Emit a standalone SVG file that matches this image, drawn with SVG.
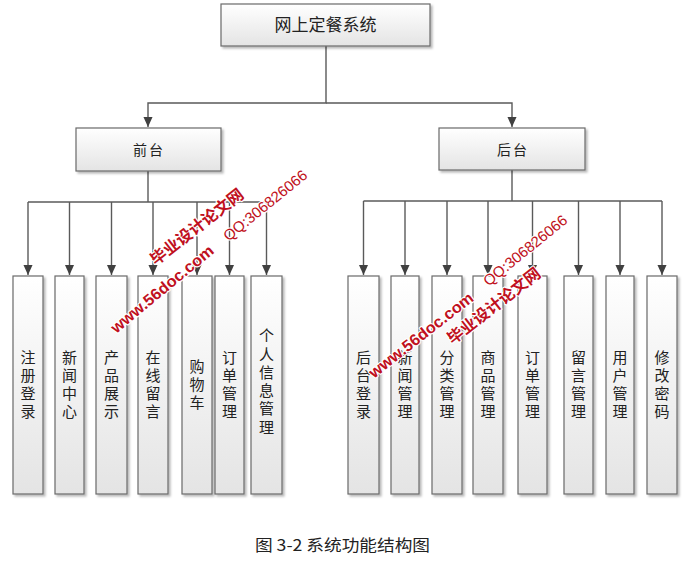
<svg xmlns="http://www.w3.org/2000/svg" width="697" height="562" viewBox="0 0 697 562">
<defs>
<linearGradient id="g" x1="0" y1="0" x2="0" y2="1">
<stop offset="0" stop-color="#ffffff"/>
<stop offset="1" stop-color="#e4e4e4"/>
</linearGradient>
<filter id="sh" x="-20%" y="-20%" width="150%" height="150%">
<feDropShadow dx="2" dy="2" stdDeviation="1.2" flood-color="#000" flood-opacity="0.28"/>
</filter>
<marker id="ah" markerUnits="userSpaceOnUse" markerWidth="10" markerHeight="11" refX="11" refY="5" orient="auto" viewBox="0 0 11 10">
<path d="M0,0 L11,5 L0,10 z" fill="#404040"/>
</marker>
<style>
.box{fill:url(#g);stroke:#6a6a6a;stroke-width:1.2;filter:url(#sh)}
.t{font-family:"Noto Sans CJK SC","Liberation Sans",sans-serif;fill:#222;text-anchor:middle}
.leaf{font-size:15px;writing-mode:vertical-rl;letter-spacing:3px}
.c{fill:none;stroke:#5a5a5a;stroke-width:1.4}
.wm{font-family:"Liberation Sans","Noto Sans CJK SC",sans-serif;fill:#c01020;stroke:#fff;stroke-width:2.2;paint-order:stroke;stroke-linejoin:round;text-anchor:middle;dominant-baseline:central}
</style>
</defs>
<rect width="697" height="562" fill="#fff"/>

<g id="connectors">
<path class="c" d="M326,46 V103 H148 V127" marker-end="url(#ah)"/>
<path class="c" d="M326,103 H512 V127" marker-end="url(#ah)"/>
<path class="c" d="M148,171 V202"/>
<path class="c" d="M28,202 H266"/>
<path class="c" d="M28,202 V275" marker-end="url(#ah)"/>
<path class="c" d="M69.5,202 V275" marker-end="url(#ah)"/>
<path class="c" d="M111.5,202 V275" marker-end="url(#ah)"/>
<path class="c" d="M153,202 V275" marker-end="url(#ah)"/>
<path class="c" d="M197,202 V275" marker-end="url(#ah)"/>
<path class="c" d="M229.5,202 V275" marker-end="url(#ah)"/>
<path class="c" d="M266.5,202 V275" marker-end="url(#ah)"/>
<path class="c" d="M512,170 V201"/>
<path class="c" d="M363.5,201 H662"/>
<path class="c" d="M363.5,201 V275" marker-end="url(#ah)"/>
<path class="c" d="M405,201 V275" marker-end="url(#ah)"/>
<path class="c" d="M447,201 V275" marker-end="url(#ah)"/>
<path class="c" d="M488,201 V275" marker-end="url(#ah)"/>
<path class="c" d="M532.5,201 V275" marker-end="url(#ah)"/>
<path class="c" d="M578.5,201 V275" marker-end="url(#ah)"/>
<path class="c" d="M620,201 V275" marker-end="url(#ah)"/>
<path class="c" d="M662,201 V275" marker-end="url(#ah)"/>
</g>

<g id="root">
<rect class="box" x="221" y="4" width="209" height="42"/>
<text class="t" x="325.5" y="31" font-size="17">网上定餐系统</text>
</g>
<g id="qiantai">
<rect class="box" x="76" y="128" width="145" height="43"/>
<text class="t" x="149" y="155" font-size="14" letter-spacing="2">前台</text>
</g>
<g id="houtai">
<rect class="box" x="439" y="128" width="146" height="42"/>
<text class="t" x="513" y="155" font-size="14" letter-spacing="2">后台</text>
</g>

<g id="l1"><rect class="box" x="13" y="276" width="30" height="218"/>
<text class="t leaf" x="28" y="385.5">注册登录</text></g>
<g id="l2"><rect class="box" x="55" y="276" width="29" height="218"/>
<text class="t leaf" x="69.5" y="385.5">新闻中心</text></g>
<g id="l3"><rect class="box" x="96" y="276" width="31" height="218"/>
<text class="t leaf" x="111.5" y="385.5">产品展示</text></g>
<g id="l4"><rect class="box" x="138" y="276" width="30" height="218"/>
<text class="t leaf" x="153" y="385.5">在线留言</text></g>
<g id="l5"><rect class="box" x="182" y="276" width="30" height="218"/>
<text class="t leaf" x="197" y="385.5">购物车</text></g>
<g id="l6"><rect class="box" x="215" y="276" width="29" height="218"/>
<text class="t leaf" x="229.5" y="385.5">订单管理</text></g>
<g id="l7"><rect class="box" x="251" y="276" width="31" height="218"/>
<text class="t leaf" x="266.5" y="383" style="letter-spacing:3.3px">个人信息管理</text></g>

<g id="r1"><rect class="box" x="348" y="276" width="31" height="218"/>
<text class="t leaf" x="363.5" y="385.5">后台登录</text></g>
<g id="r2"><rect class="box" x="391" y="276" width="28" height="218"/>
<text class="t leaf" x="405" y="385.5">新闻管理</text></g>
<g id="r3"><rect class="box" x="432" y="276" width="30" height="218"/>
<text class="t leaf" x="447" y="385.5">分类管理</text></g>
<g id="r4"><rect class="box" x="473" y="276" width="30" height="218"/>
<text class="t leaf" x="488" y="385.5">商品管理</text></g>
<g id="r5"><rect class="box" x="518" y="276" width="29" height="218"/>
<text class="t leaf" x="532.5" y="385.5">订单管理</text></g>
<g id="r6"><rect class="box" x="564" y="276" width="29" height="218"/>
<text class="t leaf" x="578.5" y="385.5">留言管理</text></g>
<g id="r7"><rect class="box" x="606" y="276" width="28" height="218"/>
<text class="t leaf" x="620" y="385.5">用户管理</text></g>
<g id="r8"><rect class="box" x="647" y="276" width="30" height="218"/>
<text class="t leaf" x="662" y="385.5">修改密码</text></g>

<g id="caption">
<text class="t" x="342.5" y="551" font-size="16" fill="#333" textLength="175" lengthAdjust="spacingAndGlyphs">图 3-2 系统功能结构图</text>
</g>

<g id="watermarks">
<text class="wm" transform="translate(197,227) rotate(-38)" font-size="16" font-weight="bold" textLength="113" lengthAdjust="spacingAndGlyphs">毕业设计论文网</text>
<text class="wm" transform="translate(162,289) rotate(-39.5)" font-size="16" font-weight="bold" textLength="128" lengthAdjust="spacingAndGlyphs">www.56doc.com</text>
<text class="wm" transform="translate(265,205) rotate(-39)" font-size="15" textLength="103" lengthAdjust="spacingAndGlyphs">QQ:306826066</text>
<text class="wm" transform="translate(421,335) rotate(-38)" font-size="16" font-weight="bold" textLength="128" lengthAdjust="spacingAndGlyphs">www.56doc.com</text>
<text class="wm" transform="translate(525,250) rotate(-39)" font-size="15" textLength="103" lengthAdjust="spacingAndGlyphs">QQ:306826066</text>
<text class="wm" transform="translate(494,306) rotate(-38)" font-size="16" font-weight="bold" textLength="113" lengthAdjust="spacingAndGlyphs">毕业设计论文网</text>
</g>
</svg>
